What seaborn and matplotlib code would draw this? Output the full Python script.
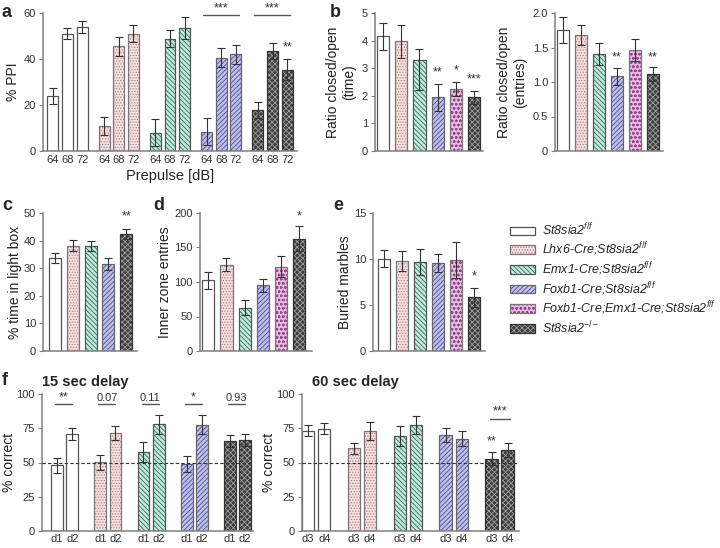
import numpy as np
import pandas as pd
import matplotlib
matplotlib.use("Agg")
import matplotlib.pyplot as plt
import seaborn as sns
from matplotlib.patches import Patch, Rectangle

sns.set_theme(style="ticks")
plt.rcParams["font.family"] = ["Liberation Sans", "DejaVu Sans"]
plt.rcParams["mathtext.fontset"] = "custom"
plt.rcParams["mathtext.it"] = "Liberation Sans:italic"
plt.rcParams["mathtext.rm"] = "Liberation Sans"
plt.rcParams["hatch.linewidth"] = 0.6

# genotypes and legend labels
genos = ["wt", "lhx6", "emx1", "foxb1", "dbl", "ko"]
geno_labels = ["St8sia2$^{f/f}$", "Lhx6-Cre;St8sia2$^{f/f}$", "Emx1-Cre;St8sia2$^{f/f}$",
               "Foxb1-Cre;St8sia2$^{f/f}$", "Foxb1-Cre;Emx1-Cre;St8sia2$^{f/f}$", "St8sia2$^{-/-}$"]

# a: prepulse inhibition
ppi_groups = ["wt", "lhx6", "emx1", "foxb1", "ko"]
prepulse = ["64", "68", "72"]
ppi_mean = [[24, 51, 54], [10.8, 45.5, 51], [8, 48.8, 53.6], [8.4, 40.6, 42], [17.8, 43.5, 35.4]]
ppi_sem = [[3.6, 2.3, 2.7], [4, 4.2, 3.8], [6, 3.6, 4.7], [5.8, 4, 4], [3.6, 3.6, 4.5]]

# b: elevated plus maze
epm_time = [4.15, 3.97, 3.28, 1.94, 2.25, 1.94]
epm_time_lo = [0.48, 0.6, 1.08, 0.48, 0.24, 0.23]
epm_time_hi = [0.48, 0.6, 0.43, 0.48, 0.24, 0.23]
epm_entries = [1.75, 1.68, 1.40, 1.08, 1.46, 1.12]
epm_entries_sem = [0.19, 0.145, 0.16, 0.13, 0.16, 0.10]

# c: light/dark box
ldb_groups = ["wt", "lhx6", "emx1", "foxb1", "ko"]
light_time = [33.7, 38.2, 38.2, 31.6, 42.3]
light_sem = [1.8, 2.1, 1.8, 2.1, 1.8]

# d: open field
of_entries = [102.5, 125, 63, 95, 122, 163]
of_sem = [12.5, 9.7, 11, 9, 15, 18.5]

# e: marble burying
marbles = [10.05, 9.8, 9.65, 9.6, 9.9, 5.85]
marbles_sem = [0.97, 1.05, 1.4, 0.97, 2.0, 1.05]

# f: T-maze delayed alternation
tm_groups = ["wt", "lhx6", "emx1", "foxb1", "ko"]
d15_mean = [[48, 70.8], [50.2, 71.5], [57.7, 77.9], [48.7, 77.5], [65.6, 66.3]]
d15_sem = [[5.5, 4.6], [5.5, 5.2], [7.2, 7], [5.8, 7], [4.5, 4.4]]
d15_sig = ["**", "0.07", "0.11", "*", "0.93"]
d60_mean = [[73.3, 74.5], [60.3, 73.3], [69.2, 77.2], [70, 67.3], [52.9, 59.4]]
d60_sem = [[4, 4], [4.2, 6.6], [7.5, 6.5], [5.2, 5.5], [4.6, 5.1]]

FACE = {"wt": "#ffffff", "lhx6": "#fbdede", "emx1": "#c4eadd", "foxb1": "#c0c0ec", "dbl": "#eab8e4", "ko": "#3e3e3e"}
HCOL = {"wt": "#ffffff", "lhx6": "#a08888", "emx1": "#2e6e5c", "foxb1": "#4a4a94", "dbl": "#8e4a88", "ko": "#a0a0a0"}
HATCH = {"wt": "", "lhx6": "......", "emx1": "\\\\\\\\\\\\\\", "foxb1": "///////", "dbl": "oooo", "ko": "xxxxxx"}
EDGE = {"wt": "#555555", "lhx6": "#777777", "emx1": "#555555", "foxb1": "#666666", "dbl": "#777777", "ko": "#333333"}
GREY = "#808080"
TXT = "#333333"


def bars(ax, xs, means, groups, width, err=None):
    df = pd.DataFrame({"x": xs, "y": means, "g": groups})
    order = [g for g in genos if g in set(groups)]
    sns.barplot(data=df, x="x", y="y", hue="g", hue_order=order, palette=FACE,
                native_scale=True, dodge=False, width=width, saturation=1,
                errorbar=None, legend=False, ax=ax)
    xs_arr = np.asarray(xs, float)
    for p in list(ax.patches):
        cx = p.get_x() + p.get_width() / 2
        g = groups[int(np.argmin(np.abs(xs_arr - cx)))]
        p.set_facecolor(FACE[g])
        p.set_edgecolor(HCOL[g])
        p.set_hatch(HATCH[g])
        p.set_linewidth(0)
        ax.add_patch(Rectangle((p.get_x(), p.get_y()), p.get_width(), p.get_height(),
                               fill=False, ec=EDGE[g], lw=0.9, zorder=p.get_zorder() + 0.1))
    if err is not None:
        ax.errorbar(xs, means, yerr=err, fmt="none", ecolor=TXT, elinewidth=0.8,
                    capsize=2.6, capthick=0.8, zorder=5)
    ax.set_xlabel("")
    ax.set_ylabel("")


def style(ax, ylim, yticks, ylabel, xlim, yticklabels=None, labelpad=1.5):
    ax.set_ylim(0, ylim)
    ax.set_yticks(yticks)
    if yticklabels is not None:
        ax.set_yticklabels(yticklabels)
    ax.set_xlim(*xlim)
    sns.despine(ax=ax)
    for s in ("left", "bottom"):
        ax.spines[s].set_color(GREY)
        ax.spines[s].set_linewidth(1.1)
    ax.tick_params(axis="y", length=3, width=0.8, color=GREY, labelsize=8, labelcolor=TXT, pad=2)
    ax.tick_params(axis="x", length=0, labelsize=8, labelcolor=TXT, pad=3)
    ax.set_ylabel(ylabel, fontsize=10, color="#222222", labelpad=labelpad)


def star(ax, x, y, s):
    ax.text(x, y, s, ha="center", va="center", fontsize=9, color=TXT, clip_on=False)


def bracket(ax, x0, x1, y, s, ty, va="center"):
    ax.plot([x0, x1], [y, y], color="#555555", lw=1, clip_on=False)
    ax.text((x0 + x1) / 2, ty, s, ha="center", va=va, fontsize=9 if "*" in s else 8,
            color=TXT, clip_on=False)


fig = plt.figure(figsize=(7.2, 5.48), dpi=100)
W, H = 720, 548


def axes_px(l, r, t, b):
    return fig.add_axes([l / W, 1 - b / H, (r - l) / W, (b - t) / H])


# ---- a ----
ax = axes_px(43, 297, 13, 151)
xa, ya, ea, ga, la = [], [], [], [], []
for gi, g in enumerate(ppi_groups):
    for i in range(3):
        xa.append(gi * 3.5 + i)
        ya.append(ppi_mean[gi][i])
        ea.append(ppi_sem[gi][i])
        ga.append(g)
        la.append(prepulse[i])
bars(ax, xa, ya, ga, 0.75, ea)
style(ax, 60, [0, 20, 40, 60], "% PPI", (-0.67, 16.67), labelpad=3)
ax.set_xticks(xa, la)
ax.set_xlabel("Prepulse [dB]", fontsize=10.5, color="#222222", labelpad=3)
for gi in (3, 4):
    bracket(ax, gi * 3.5 - 0.25, gi * 3.5 + 2.2, 59, "***", 62)
star(ax, 16, 45.2, "**")

# ---- b ----
xb = list(range(6))
ax = axes_px(375, 483, 13, 151)
bars(ax, xb, epm_time, genos, 0.67, [epm_time_lo, epm_time_hi])
style(ax, 5, range(6), "Ratio closed/open\n(time)", (-0.45, 5.5), labelpad=4)
ax.set_xticks([])
star(ax, 3, 2.84, "**")
star(ax, 4, 2.93, "*")
star(ax, 5, 2.6, "***")

ax = axes_px(555, 663, 13, 151)
bars(ax, xb, epm_entries, genos, 0.67, epm_entries_sem)
style(ax, 2, [0, 0.5, 1, 1.5, 2], "Ratio closed/open\n(entries)", (-0.45, 5.55),
      ["0", "0.5", "1.0", "1.5", "2.0"], labelpad=4)
ax.set_xticks([])
star(ax, 3, 1.36, "**")
star(ax, 5, 1.36, "**")

# ---- c ----
ax = axes_px(43, 137, 213, 351)
bars(ax, list(range(5)), light_time, ldb_groups, 0.67, light_sem)
style(ax, 50, range(0, 51, 10), "% time in light box", (-0.67, 4.6))
ax.set_xticks([])
star(ax, 4, 48.8, "**")

# ---- d ----
ax = axes_px(200, 312, 213, 351)
bars(ax, xb, of_entries, genos, 0.67, of_sem)
style(ax, 200, range(0, 201, 50), "Inner zone entries", (-0.45, 5.7))
ax.set_xticks([])
star(ax, 5, 195, "*")

# ---- e ----
ax = axes_px(373, 485, 213, 351)
bars(ax, xb, marbles, genos, 0.67, marbles_sem)
style(ax, 15, [0, 5, 10, 15], "Buried marbles", (-0.6, 5.6))
ax.set_xticks([])
star(ax, 5, 8.1, "*")

# ---- legend ----
handles = [(Patch(fc=FACE[g], ec=HCOL[g], hatch=HATCH[g], lw=0), Patch(fill=False, ec=EDGE[g], lw=0.9))
           for g in genos]
fig.legend(handles, geno_labels, loc="center left", bbox_to_anchor=(510 / W, 1 - 279 / H),
           frameon=False, prop={"style": "italic", "size": 9}, handlelength=2.0,
           handleheight=0.7, handletextpad=0.6, labelspacing=0.17, borderaxespad=0, borderpad=0)


# ---- f ----
def tmaze(ax, means, sems, days, xlim):
    xs, ys, es, gs, ls = [], [], [], [], []
    for gi, g in enumerate(tm_groups):
        for i in range(2):
            xs.append(gi * 2.85 + i)
            ys.append(means[gi][i])
            es.append(sems[gi][i])
            gs.append(g)
            ls.append(days[i])
    bars(ax, xs, ys, gs, 0.78, es)
    style(ax, 100, [0, 25, 50, 75, 100], "% correct", xlim, labelpad=0.5)
    ax.set_xticks(xs, ls)
    ax.tick_params(axis="x", pad=2)
    ax.axhline(50, color="#333333", lw=0.8, ls=(0, (3, 2)), zorder=6)


ax = axes_px(42, 253, 394, 531)
tmaze(ax, d15_mean, d15_sem, ["d1", "d2"], (-1.0, 12.93))
for gi, s in enumerate(d15_sig):
    x0 = gi * 2.85
    if "*" in s:
        bracket(ax, x0 - 0.12, x0 + 1.0, 92.5, s, 97.5)
    else:
        bracket(ax, x0 - 0.12, x0 + 1.0, 92.5, s, 93.6, va="bottom")
ax.text(0, 1.04, "15 sec delay", transform=ax.transAxes, fontsize=10.5, fontweight="bold",
        ha="left", va="bottom")

ax = axes_px(302, 519, 394, 531)
tmaze(ax, d60_mean, d60_sem, ["d3", "d4"], (-0.38, 13.1))
bracket(ax, 4 * 2.85 - 0.12, 4 * 2.85 + 1.12, 81.7, "***", 87.3)
star(ax, 4 * 2.85, 65.6, "**")
ax.text(0.045, 1.04, "60 sec delay", transform=ax.transAxes, fontsize=10.5, fontweight="bold",
        ha="left", va="bottom")

# panel letters
for s, x, y in [("a", 2, 4), ("b", 330, 4), ("c", 2, 197), ("d", 153, 197), ("e", 333, 197), ("f", 2, 372)]:
    fig.text(x / W, 1 - y / H, s, fontsize=13, fontweight="bold", ha="left", va="top")

fig.savefig("out.png", dpi=100)
